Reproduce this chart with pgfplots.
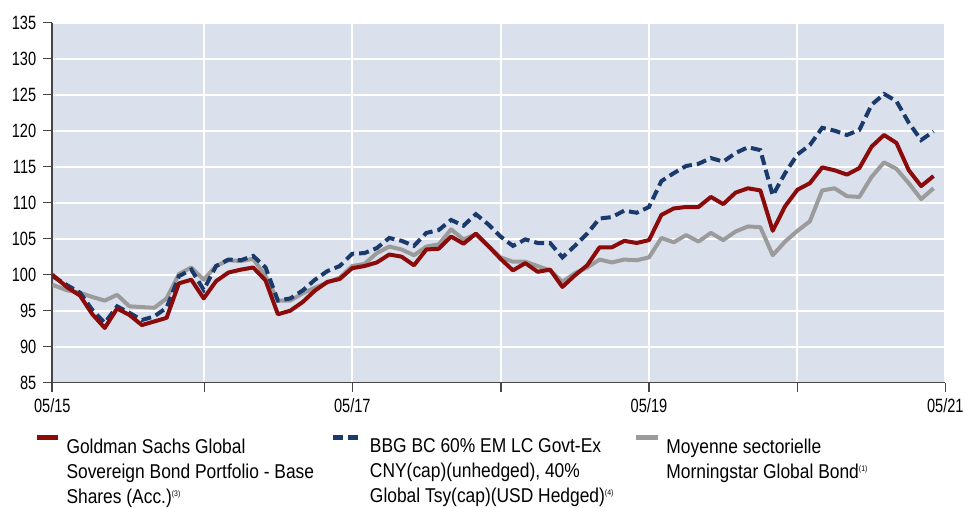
\documentclass[border=0pt]{standalone}
\usepackage{fontspec}
\setmainfont{Liberation Sans}[FakeStretch=0.87]
\newfontfamily\tickfont{Liberation Sans}[FakeStretch=0.76]
\usepackage{pgfplots}
\pgfplotsset{compat=1.18}
\usepackage{pgfplotstable}
\usetikzlibrary{calc}
\definecolor{gsred}{RGB}{139,10,10}
\definecolor{bbgblue}{RGB}{26,58,107}
\definecolor{msgray}{RGB}{155,155,155}
\definecolor{bgc}{RGB}{218,224,236}
\definecolor{axc}{RGB}{70,70,70}

\pgfplotstableread{
x red blue gray
52.30 100.0 99.8 98.6
67.63 98.2 98.5 97.8
80.00 97.1 97.5 97.5
92.37 94.5 95.1 96.9
104.74 92.6 93.3 96.4
117.11 95.3 95.6 97.2
129.48 94.4 94.7 95.6
141.85 93.0 93.7 95.5
154.22 93.5 94.2 95.4
166.59 94.0 95.4 96.7
178.96 98.8 99.8 100.1
191.33 99.3 100.7 101.0
203.70 96.7 97.9 99.3
216.07 99.1 101.2 101.2
228.44 100.3 102.1 102.0
240.81 100.7 102.0 101.9
253.18 101.0 102.6 102.2
265.55 99.2 101.0 99.8
277.92 94.5 96.4 96.4
290.29 95.0 96.7 96.4
302.66 96.2 97.8 97.4
315.03 97.8 99.3 98.2
327.40 99.0 100.5 98.9
339.77 99.4 101.2 99.6
352.14 100.9 102.9 101.2
364.51 101.2 103.0 101.5
376.88 101.7 103.7 103.0
389.25 102.8 105.1 103.9
401.62 102.5 104.7 103.5
413.99 101.3 104.0 102.7
426.36 103.5 105.8 103.9
438.73 103.6 106.2 104.2
451.10 105.3 107.6 106.3
463.47 104.3 106.8 104.9
475.84 105.7 108.4 105.6
488.21 104.0 107.0 104.0
500.58 102.2 105.3 102.4
512.95 100.6 104.0 101.8
525.32 101.6 104.9 101.8
537.69 100.4 104.4 101.2
550.06 100.7 104.4 100.6
562.43 98.3 102.4 99.0
574.80 99.9 104.0 100.2
587.17 101.3 105.7 101.0
599.54 103.8 107.8 102.1
611.91 103.8 108.0 101.7
624.28 104.7 108.9 102.1
636.65 104.4 108.6 102.0
649.02 104.8 109.4 102.4
661.39 108.3 113.0 105.1
673.76 109.2 114.1 104.5
686.13 109.4 115.1 105.5
698.50 109.4 115.4 104.6
710.87 110.8 116.2 105.8
723.24 109.8 115.7 104.8
735.61 111.4 116.9 106.0
747.98 112.0 117.7 106.7
760.35 111.7 117.3 106.6
772.72 106.1 111.0 102.7
785.09 109.5 114.1 104.6
797.46 111.8 116.7 106.1
809.83 112.7 118.0 107.4
822.20 114.9 120.4 111.7
834.57 114.5 120.0 112.0
846.94 113.9 119.4 110.9
859.31 114.8 120.1 110.8
871.68 117.8 123.6 113.6
884.05 119.4 125.1 115.6
896.42 118.3 124.1 114.7
908.79 114.5 121.1 112.7
921.16 112.3 118.7 110.5
933.53 113.7 119.9 112.0
}\data

\newcommand{\sups}[1]{\raisebox{3.6pt}{\fontsize{4}{4}\selectfont(#1)}}

\pgfplotsset{
  legred/.style={legend image code/.code={\path[draw=none,fill=none] (0pt,0pt) -- (15pt,0pt);
    \draw[gsred,line width=2.5pt] (0pt,0.5pt) -- (10.5pt,0.5pt);}},
  legblue/.style={legend image code/.code={\path[draw=none,fill=none] (0pt,0pt) -- (18.5pt,0pt);
    \draw[bbgblue,line width=2.5pt,dash pattern=on 5pt off 2.5pt] (0pt,0.5pt) -- (12.5pt,0.5pt);}},
  leggray/.style={legend image code/.code={\path[draw=none,fill=none] (0pt,0pt) -- (15pt,0pt);
    \draw[msgray,line width=2.5pt] (0pt,0.5pt) -- (11pt,0.5pt);}},
}

\begin{document}
\begin{tikzpicture}
\begin{axis}[
  scale only axis, width=446.5pt, height=180pt,
  xmin=52.3, xmax=945.3, ymin=85, ymax=135,
  axis background/.style={fill=bgc},
  axis x line*=bottom, axis y line*=left,
  axis line style={axc, line width=0.8pt, -},
  xtick pos=bottom, ytick pos=left,
  xtick={52.3,204.3,352.3,500.7,649,797.3,945.3},
  xticklabels={05/15,,05/17,,05/19,,05/21},
  ytick={85,90,95,100,105,110,115,120,125,130,135},
  grid=major, major grid style={white, line width=1pt},
  tick align=outside, major tick length=4.5pt,
  tick style={axc, line width=0.8pt},
  ticklabel style={font=\tickfont\fontsize{9.6}{11}\selectfont},
  /pgf/number format/assume math mode=true,
  legend columns=3,
  legend style={draw=none, fill=none, at={(axis description cs:-0.0205,-0.1467)},
    anchor=north west, inner sep=0pt, outer sep=0pt, column sep=0pt, row sep=0pt,
    font=\fontsize{10}{12.5}\selectfont,
    nodes={inner sep=0pt, outer sep=0pt},
    cells={anchor=north west, inner sep=0pt}},
]
\coordinate (sw) at (rel axis cs:0,0);
\coordinate (ne) at (rel axis cs:1,1);
\addlegendimage{legred}
\addlegendentry{\parbox[t]{132pt}{\raggedright Goldman Sachs Global\\Sovereign Bond Portfolio - Base\\Shares (Acc.)\sups{3}}}
\addlegendimage{legblue}
\addlegendentry{\parbox[t]{132pt}{\raggedright BBG BC 60\% EM LC Govt-Ex\\CNY(cap)(unhedged), 40\%\\Global Tsy(cap)(USD Hedged)\sups{4}}}
\addlegendimage{leggray}
\addlegendentry{\parbox[t]{132pt}{\raggedright Moyenne sectorielle\\Morningstar Global Bond\sups{1}}}
\addplot[forget plot, msgray, line width=2pt, line join=round] table[x=x, y=gray] {\data};
\addplot[forget plot, bbgblue, line width=2pt, dash pattern=on 5pt off 2.5pt] table[x=x, y=blue] {\data};
\addplot[forget plot, gsred, line width=2pt, line join=round] table[x=x, y=red] {\data};
\end{axis}
\pgfresetboundingbox
\path ($(sw)+(-26.15pt,-62.65pt)$) rectangle ($(ne)+(9.85pt,11.35pt)$);
\end{tikzpicture}
\end{document}
